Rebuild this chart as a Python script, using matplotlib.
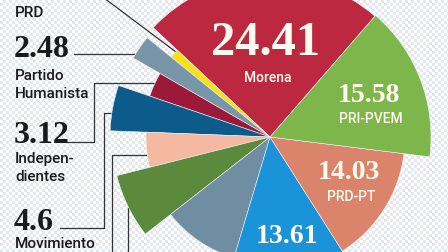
import numpy as np
import matplotlib
matplotlib.use('Agg')
import matplotlib.pyplot as plt

# vote shares (%), counter-clockwise from Morena
parties = ['Morena', 'PRD', 'Partido Humanista', 'Independientes', 'Movimiento Ciudadano',
           'Otro 1', 'Otro 2', 'Otro 3', 'PAN', 'PRD-PT', 'PRI-PVEM']
shares = [24.41, 1.16, 2.48, 3.12, 4.6, 4.55, 6.6, 9.86, 13.61, 14.03, 15.58]
colors = ['#bd2841', '#f3e11b', '#7896a8', '#9c1a39', '#0d5b8b', '#f5b9a1',
          '#5b8a3d', '#6f8ea2', '#1b93d9', '#d9846b', '#7db64b']
# outer radius of each wedge in pixels (the chart is "exploded" by radius)
radii = [160, 127, 158, 127, 160, 124, 158, 126, 150, 135, 161]

W, H = 448, 252
fig = plt.figure(figsize=(W / 100, H / 100), dpi=100)
ax = fig.add_axes([0, 0, 1, 1])

# checkered paper background
yy, xx = np.mgrid[0:H, 0:W]
check = ((xx // 3 + yy // 3) % 2).astype(float)
ax.imshow(check, cmap=matplotlib.colors.ListedColormap(['#ffffff', '#e3e8ee']),
          extent=(0, W, H, 0), interpolation='bilinear', zorder=0)

# y axis inverted, so data coords = picture pixels; pie direction flips too
wedges, _ = ax.pie(shares, colors=colors, radius=160, center=(270, 137),
                   startangle=-49, counterclock=False, frame=True,
                   wedgeprops=dict(linewidth=0.4, edgecolor='#f2f2f2'))
for w, r in zip(wedges, radii):
    w.set_radius(r)
    w.set_zorder(2)

ax.set_xlim(0, W)
ax.set_ylim(H, 0)
ax.set_aspect('auto')
ax.axis('off')

num_font = dict(family=['Liberation Serif', 'DejaVu Serif'], fontweight='bold')
lab_font = dict(family=['Roboto', 'DejaVu Sans'], fontweight='medium')
cream = '#fffbee'

# labels inside the slices
ax.text(266, 55, '24.41', fontsize=35, color=cream, ha='center', va='baseline', zorder=3, **num_font)
ax.text(268, 82, 'Morena', fontsize=10, color=cream, ha='center', va='baseline', zorder=3, **lab_font)
ax.text(369, 102, '15.58', fontsize=20, color=cream, ha='center', va='baseline', zorder=3, **num_font)
ax.text(371, 123, 'PRI-PVEM', fontsize=10, color=cream, ha='center', va='baseline', zorder=3, **lab_font)
ax.text(349, 179, '14.03', fontsize=20, color=cream, ha='center', va='baseline', zorder=3, **num_font)
ax.text(351, 201, 'PRD-PT', fontsize=10, color=cream, ha='center', va='baseline', zorder=3, **lab_font)
ax.text(287, 243, '13.61', fontsize=20, color=cream, ha='center', va='baseline', zorder=3, **num_font)

# labels on the left
ink = '#1a1a1a'
ax.text(15, 17, 'PRD', fontsize=11, color=ink, ha='left', va='baseline', zorder=3, **lab_font)
ax.text(14, 57, '2.48', fontsize=23, color=ink, ha='left', va='baseline', zorder=3, **num_font)
ax.text(15, 80, 'Partido', fontsize=11, color=ink, ha='left', va='baseline', zorder=3, **lab_font)
ax.text(15, 98, 'Humanista', fontsize=11, color=ink, ha='left', va='baseline', zorder=3, **lab_font)
ax.text(14, 143, '3.12', fontsize=23, color=ink, ha='left', va='baseline', zorder=3, **num_font)
ax.text(15, 163, 'Indepen-', fontsize=11, color=ink, ha='left', va='baseline', zorder=3, **lab_font)
ax.text(15, 181, 'dientes', fontsize=11, color=ink, ha='left', va='baseline', zorder=3, **lab_font)
ax.text(14, 230, '4.6', fontsize=23, color=ink, ha='left', va='baseline', zorder=3, **num_font)
ax.text(15, 251, 'Movimiento', fontsize=11, color=ink, ha='left', va='bottom', zorder=3, **lab_font)

# leader lines
line = dict(color='#333333', linewidth=0.9, zorder=1)
ax.plot([100, 176], [-5, 52], **line)
ax.plot([74, 134], [54, 54], **line)
ax.plot([67, 94, 94, 158], [142, 142, 83, 83], **line)
ax.plot([60, 104, 104, 116], [228, 228, 113, 113], **line)
ax.plot([112, 112, 146], [260, 155, 155], **line)
ax.plot([128, 128, 134], [260, 208, 208], **line)

fig.savefig('out.png', dpi=100)
